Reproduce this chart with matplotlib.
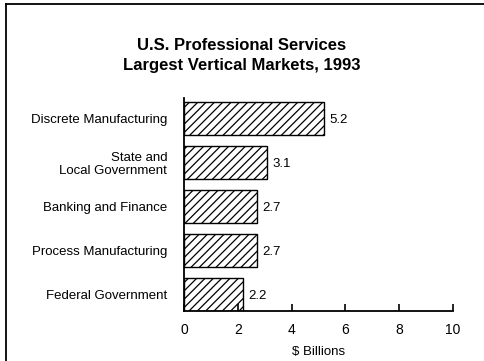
import matplotlib.pyplot as plt
from matplotlib.lines import Line2D

plt.rcParams['font.family'] = ['Liberation Sans', 'DejaVu Sans']
plt.rcParams['hatch.linewidth'] = 0.9

# vertical markets, listed bottom to top
markets = ['Federal Government', 'Process Manufacturing', 'Banking and Finance',
           'State and\nLocal Government', 'Discrete Manufacturing']
revenue = [2.2, 2.7, 2.7, 3.1, 5.2]
xticks = [0, 2, 4, 6, 8, 10]

fig = plt.figure(figsize=(4.84, 3.61), dpi=100)
ax = fig.add_axes([0.380, 0.139, 0.556, 0.590])

pos = list(range(len(markets)))
bars = ax.barh(pos, revenue, height=0.75, color='white', edgecolor='black',
               linewidth=1.0, hatch='////')
for y, v in zip(pos, revenue):
    ax.annotate(f'{v:.1f}', (v, y), xytext=(4, 0), textcoords='offset points',
                va='center_baseline', ha='left', fontsize=9.5)

ax.set_xlim(0, 10)
ax.set_ylim(-0.375, 4.47)
ax.set_xticks(xticks)
ax.set_yticks(pos)
ax.set_yticklabels(markets, ha='right', fontsize=9.5, linespacing=1.1)
ax.tick_params(axis='y', length=0, pad=12)
ax.tick_params(axis='x', direction='in', length=5, width=1.2, labelsize=10, pad=9)
ax.set_xlabel('$ Billions'.replace('$', r'\$'), fontsize=9.5, labelpad=6)
for s in ['top', 'right']:
    ax.spines[s].set_visible(False)
for s in ['left', 'bottom']:
    ax.spines[s].set_linewidth(1.3)

fig.text(0.5, 0.846, 'U.S. Professional Services\nLargest Vertical Markets, 1993',
         ha='center', va='center', fontsize=12, fontweight='bold', linespacing=1.35)

# page border along the left and top edges
fig.add_artist(Line2D([0.013, 0.013], [0.0, 0.988], color='black', lw=1.3,
                      transform=fig.transFigure))
fig.add_artist(Line2D([0.013, 1.0], [0.988, 0.988], color='black', lw=1.3,
                      transform=fig.transFigure))

fig.savefig('out.png', dpi=100)
